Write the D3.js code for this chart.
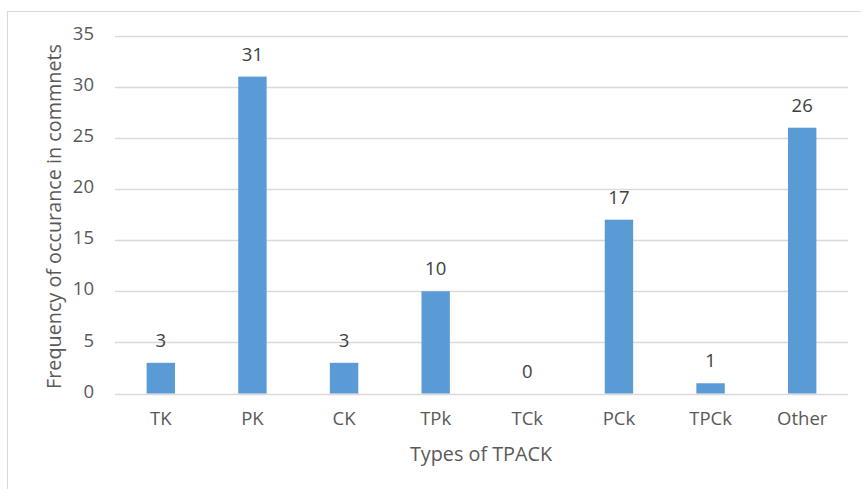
<!DOCTYPE html>
<html>
<head>
<meta charset="utf-8">
<script src="https://cdn.jsdelivr.net/npm/d3@7"></script>
<style>
  html, body { margin: 0; padding: 0; background: #fff; }
  svg { display: block; font-family: "Open Sans", "Noto Sans", sans-serif; }
</style>
</head>
<body>
<svg id="chart" width="861" height="489"></svg>
<script>
// TPACK category frequencies
const categories = ["TK", "PK", "CK", "TPk", "TCk", "PCk", "TPCk", "Other"];
const frequencies = [3, 31, 3, 10, 0, 17, 1, 26];
const yTicks = [0, 5, 10, 15, 20, 25, 30, 35];

const svg = d3.select("#chart");
const W = 861, H = 489;
const plotLeft = 115, plotRight = 848, plotTop = 35.7, plotBottom = 393.5;
const fontSize = "18.5px";
const titleSize = "19.8px";

// Outer chart frame
svg.append("rect")
  .attr("x", 7.5).attr("y", 11.5)
  .attr("width", W + 20).attr("height", H + 20)
  .attr("fill", "#fff").attr("stroke", "#d9d9d9").attr("stroke-width", 1);

const x = d3.scaleBand().domain(categories).range([plotLeft, plotRight]).paddingInner(0.69).paddingOuter(0.345);
const y = d3.scaleLinear().domain([0, 35]).range([plotBottom, plotTop]);

// Horizontal gridlines
svg.append("g").selectAll("line").data(yTicks).join("line")
  .attr("x1", plotLeft).attr("x2", plotRight)
  .attr("y1", d => Math.round(y(d)) + 0.5).attr("y2", d => Math.round(y(d)) + 0.5)
  .attr("stroke", "#d9d9d9").attr("stroke-width", 1.3);

// Y axis tick labels
const yAxis = d3.axisLeft(y).tickValues(yTicks).tickSize(0).tickPadding(0);
const gy = svg.append("g").attr("transform", `translate(${plotLeft - 21},0)`).call(yAxis);
gy.select(".domain").remove();
gy.selectAll("text").attr("fill", "#595959").attr("dy", "0.2em")
  .style("font-size", fontSize).style("font-family", "'Open Sans', sans-serif");

// Bars
svg.append("g").selectAll("rect").data(categories).join("rect")
  .attr("x", d => x(d))
  .attr("width", x.bandwidth())
  .attr("y", (d, i) => y(frequencies[i]))
  .attr("height", (d, i) => y(0) - y(frequencies[i]))
  .attr("fill", "#5b9bd5");

// Value labels
svg.append("g").selectAll("text").data(categories).join("text")
  .attr("x", d => x(d) + x.bandwidth() / 2)
  .attr("y", (d, i) => y(frequencies[i]) - 16)
  .attr("text-anchor", "middle")
  .attr("fill", "#404040").style("font-size", fontSize)
  .text((d, i) => frequencies[i]);

// X axis category labels
const xAxis = d3.axisBottom(x).tickSize(0).tickPadding(0);
const gx = svg.append("g").attr("transform", `translate(0,${plotBottom})`).call(xAxis);
gx.select(".domain").remove();
gx.selectAll("text").attr("fill", "#595959").attr("dy", null).attr("y", 31.5)
  .style("font-size", fontSize).style("font-family", "'Open Sans', sans-serif");

// Axis titles
svg.append("text")
  .attr("x", 481).attr("y", 460.5)
  .attr("text-anchor", "middle").attr("fill", "#595959").style("font-size", titleSize)
  .text("Types of TPACK");

svg.append("text")
  .attr("transform", `translate(61,216.5) rotate(-90)`)
  .attr("text-anchor", "middle").attr("fill", "#595959").style("font-size", titleSize)
  .text("Frequency of occurance in commnets");
</script>
</body>
</html>
